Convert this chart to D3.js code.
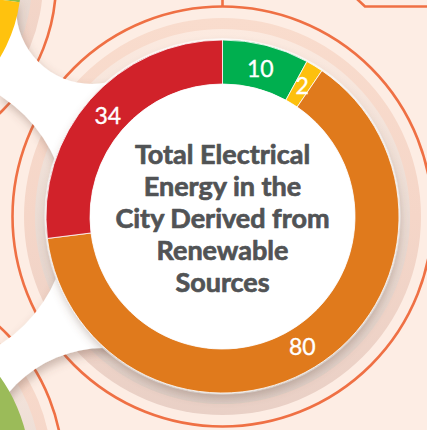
<!DOCTYPE html>
<html><head><meta charset="utf-8">
<script src="https://cdn.jsdelivr.net/npm/d3@7"></script>
<style>
html,body{margin:0;padding:0;background:#FDEDE4;overflow:hidden}
svg{display:block}
</style></head><body>
<svg id="chart" width="427" height="430"></svg>
<script>
// ---- data ----
const categories = ["Green", "Yellow", "Orange", "Red"];
const values = [10, 2, 80, 34];
const sliceColors = ["#00AF50", "#FDC010", "#E07A1E", "#D1222C"];
const titleLines = ["Total Electrical", "Energy in the", "City Derived from", "Renewable", "Sources"];
// partial neighbouring charts (decoration, angles in degrees)
const neighbourTL = [{from: 60, to: 98, color: "#8DC049"}, {from: 98, to: 170, color: "#FFC20E"}];
const neighbourBL = [{from: 5, to: 115, color: "#9BBB59"}];

const W = 427, H = 430;
const cx = 222.5, cy = 216.5, rO = 176.5, rI = 132.5;
const ringColor = "#EF7044";
const svg = d3.select("#chart");
const defs = svg.append("defs");

svg.append("rect").attr("width", W).attr("height", H).attr("fill", "#FDEDE4");

function grad(id, stops) {
  const g = defs.append("linearGradient").attr("id", id).attr("x1", 0).attr("y1", 0).attr("x2", 0).attr("y2", 1);
  stops.forEach(s => g.append("stop").attr("offset", s[0]).attr("stop-color", s[1]));
}
grad("bandPink", [[0, "#F9DCCD"], [0.5, "#F5D6C8"], [1, "#E9D0C6"]]);
grad("bandGrey", [[0, "#FCEAE0"], [0.45, "#ECDDD5"], [1, "#DCCBC3"]]);

// ring systems: main + neighbours
const systems = [
  {x: -125, y: -18, outer: 146, ring: 181},
  {x: -130, y: 470, outer: 160, ring: 193},
  {x: cx, y: cy, outer: rO, ring: 210}
];
systems.forEach(s => {
  const g = svg.append("g").attr("transform", `translate(${s.x},${s.y})`);
  g.append("circle").attr("r", s.outer + 22).attr("fill", "url(#bandPink)");
  g.append("circle").attr("r", s.outer + 11).attr("fill", "url(#bandGrey)");
  g.append("circle").attr("r", s.ring).attr("fill", "none").attr("stroke", ringColor).attr("stroke-width", 2.6);
});

// frame lines top
svg.append("line").attr("x1", cx).attr("x2", cx).attr("y1", 0).attr("y2", cy - 210)
  .attr("stroke", ringColor).attr("stroke-width", 2.6);
svg.append("path").attr("d", "M357,-1 L365,6.5 L430,6.5").attr("fill", "none")
  .attr("stroke", ringColor).attr("stroke-width", 2.6);

// white cut-out between the circles
const mask = defs.append("mask").attr("id", "cut").attr("maskUnits", "userSpaceOnUse")
  .attr("x", 0).attr("y", 0).attr("width", W).attr("height", H);
mask.append("rect").attr("width", W).attr("height", H).attr("fill", "white");
[[92, 8, 76], [-80, 220, 148], [104, 472, 124]].forEach(c =>
  mask.append("circle").attr("cx", c[0]).attr("cy", c[1]).attr("r", c[2]).attr("fill", "black"));
const shadow = defs.append("filter").attr("id", "cutShadow").attr("x", "-30%").attr("y", "-30%").attr("width", "160%").attr("height", "160%");
shadow.append("feDropShadow").attr("dx", 2).attr("dy", 5).attr("stdDeviation", 5)
  .attr("flood-color", "#6e5040").attr("flood-opacity", 0.35);
svg.append("g").attr("filter", "url(#cutShadow)")
  .append("path")
  .attr("d", "M-5,-5 L30,-5 L100,60 L115,105 L70,216 L100,330 L150,365 L150,440 L-5,440 Z")
  .attr("fill", "white").attr("mask", "url(#cut)");

// neighbouring chart fragments
const rad = d => d * Math.PI / 180;
function neighbour(sys, segs) {
  const arc = d3.arc().innerRadius(sys.outer - 44).outerRadius(sys.outer);
  svg.append("g").attr("transform", `translate(${sys.x},${sys.y})`)
    .selectAll("path").data(segs).join("path")
    .attr("d", d => arc({startAngle: rad(d.from), endAngle: rad(d.to)}))
    .attr("fill", d => d.color);
}
neighbour(systems[0], neighbourTL);
neighbour(systems[1], neighbourBL);

// main donut
const dShadow = defs.append("filter").attr("id", "donutShadow").attr("x", "-20%").attr("y", "-20%").attr("width", "140%").attr("height", "140%");
dShadow.append("feDropShadow").attr("dx", 1).attr("dy", 5).attr("stdDeviation", 4)
  .attr("flood-color", "#6e5040").attr("flood-opacity", 0.3);

const pie = d3.pie().sort(null).value(d => d.v).startAngle(0).endAngle(2 * Math.PI);
const data = pie(categories.map((c, i) => ({c, v: values[i], color: sliceColors[i]})));
const arc = d3.arc().innerRadius(rI).outerRadius(rO);
const labelArc = d3.arc().innerRadius(153).outerRadius(153);

const main = svg.append("g").attr("transform", `translate(${cx},${cy})`);
main.append("circle").attr("r", rO + 1).attr("fill", "none").attr("stroke", "#ffffff").attr("stroke-width", 1.5).attr("opacity", 0.85);
const donut = main.append("g").attr("filter", "url(#donutShadow)");
donut.selectAll("path").data(data).join("path")
  .attr("d", arc).attr("fill", d => d.data.color)
  .attr("stroke", "#ffffff").attr("stroke-width", 0.8);
main.append("circle").attr("r", rI).attr("fill", "#ffffff");

main.selectAll("text.lbl").data(data).join("text").attr("class", "lbl")
  .attr("transform", d => `translate(${labelArc.centroid(d)})`)
  .attr("text-anchor", "middle").attr("dy", "0.36em")
  .attr("font-family", "Lato, sans-serif").attr("font-size", 23).attr("fill", "#ffffff")
  .attr("stroke", "#ffffff").attr("stroke-width", 0.35)
  .text(d => d.data.v);

main.append("text").attr("text-anchor", "middle")
  .attr("font-family", "Lato, sans-serif").attr("font-weight", 700).attr("font-size", 27)
  .attr("fill", "#515355").attr("stroke", "#515355").attr("stroke-width", 0.7)
  .attr("stroke-linejoin", "round")
  .selectAll("tspan").data(titleLines).join("tspan")
  .attr("x", 0).attr("y", (d, i) => 11.5 + (i - 2) * 32.2)
  .text(d => d);
</script>
</body></html>
